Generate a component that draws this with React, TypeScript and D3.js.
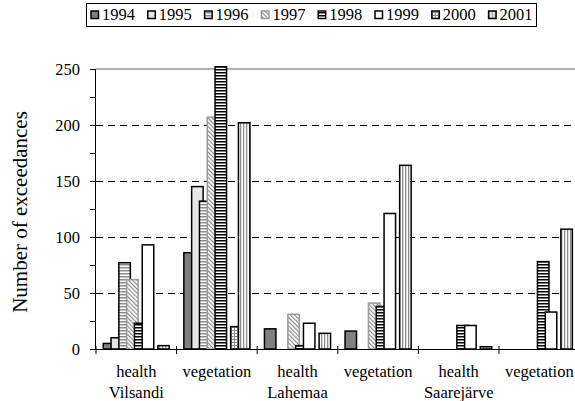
import React from "react";
import * as d3 from "d3";

const categories = ["health", "vegetation", "health", "vegetation", "health", "vegetation"];
const groups = ["Vilsandi", "", "Lahemaa", "", "Saarejärve", ""];
const years = ["1994", "1995", "1996", "1997", "1998", "1999", "2000", "2001"];
const v1994 = [5, 86, 18, 16, 0, 0];
const v1995 = [10, 145, 0, 0, 0, 0];
const v1996 = [77, 132, 0, 0, 0, 0];
const v1997 = [62, 207, 31, 41, 0, 0];
const v1998 = [23, 252, 3, 38, 21, 78];
const v1999 = [93, 0, 23, 121, 21, 33];
const v2000 = [0, 20, 0, 0, 0, 0];
const v2001 = [3, 202, 14, 164, 2, 107];
const series = [v1994, v1995, v1996, v1997, v1998, v1999, v2000, v2001];
const yTicks = [0, 50, 100, 150, 200, 250];
const yMinor = [0, 25, 50, 75, 100, 125, 150, 175, 200, 225, 250];

const fills = ["#808080", "#e6e6e6", "url(#p1996)", "url(#p1997)", "url(#p1998)", "#ffffff", "url(#p2000)", "url(#p2001)"];
const strokes = ["#000", "#000", "#000", "#9a9a9a", "#000", "#000", "#000", "#000"];

const W = 575, H = 401;
const FONT = "'Liberation Serif', 'Times New Roman', serif";

export default function App() {
  const x = d3.scaleBand<number>().domain(d3.range(categories.length)).range([96, 96 + 6 * 80.6]).padding(0);
  const y = d3.scaleLinear().domain([0, 250]).range([349, 69]);
  const bw = x.bandwidth();
  const step = bw * 0.0968;
  const barW = bw * 0.1427;
  const span = step * 7 + barW;
  const off = (bw - span) / 2;
  const x1 = d3.scalePoint<string>().domain(years).range([off, off + step * 7]);
  const txt = { fontFamily: FONT, fontSize: 16.5 } as React.CSSProperties;

  return (
    <svg width={W} height={H} style={{ position: "absolute", left: 0, top: 0, background: "#fff" }}>
      <defs>
        <pattern id="p1996" width="3" height="3" patternUnits="userSpaceOnUse">
          <rect width="3" height="3" fill="#fff" />
          <rect y="0" width="3" height="1.5" fill="#8c8c8c" />
        </pattern>
        <pattern id="p1998" width="3" height="3" patternUnits="userSpaceOnUse">
          <rect width="3" height="3" fill="#fff" />
          <rect y="0" width="3" height="1.5" fill="#000" />
        </pattern>
        <pattern id="p1997" width="3" height="3" patternUnits="userSpaceOnUse" patternTransform="rotate(-45)">
          <rect width="3" height="3" fill="#fff" />
          <rect x="0" width="1.2" height="3" fill="#8c8c8c" />
        </pattern>
        <pattern id="p2000" width="3" height="3" patternUnits="userSpaceOnUse">
          <rect width="3" height="3" fill="#fff" />
          <rect x="0" width="1" height="3" fill="#8c8c8c" />
          <rect y="0" width="3" height="1" fill="#8c8c8c" />
        </pattern>
        <pattern id="p2001" width="3" height="3" patternUnits="userSpaceOnUse">
          <rect width="3" height="3" fill="#fff" />
          <rect x="0" width="1.3" height="3" fill="#8c8c8c" />
        </pattern>
      </defs>

      {yTicks.filter(t => t > 0 && t < 250).map(t => (
        <line key={t} x1={96} x2={W} y1={y(t) + 0.5} y2={y(t) + 0.5} stroke="#000" strokeWidth={1} strokeDasharray="7,5" />
      ))}
      <line x1={96} x2={W} y1={y(250)} y2={y(250)} stroke="#999" strokeWidth={1.5} />

      {series.map((vals, si) => (
        <g key={si}>
          {vals.map((v, ci) => v > 0 ? (
            <rect key={ci}
              x={(x(ci) as number) + (x1(years[si]) as number)}
              y={y(v)}
              width={barW}
              height={y(0) - y(v)}
              fill={fills[si]}
              stroke={strokes[si]}
              strokeWidth={1.5} />
          ) : null)}
        </g>
      ))}

      <line x1={95.5} x2={95.5} y1={y(250)} y2={y(0)} stroke="#000" strokeWidth={1} />
      <line x1={96} x2={W} y1={y(0) + 0.5} y2={y(0) + 0.5} stroke="#000" strokeWidth={1} />
      {yMinor.map(t => (
        <line key={t} x1={90} x2={96} y1={y(t) + 0.5} y2={y(t) + 0.5} stroke="#000" strokeWidth={1} />
      ))}
      {yTicks.map(t => (
        <text key={t} x={80} y={y(t)} dy="0.35em" textAnchor="end" style={txt}>{t}</text>
      ))}
      {d3.range(categories.length + 1).map(i => (
        <line key={i} x1={96 + i * bw} x2={96 + i * bw} y1={y(0) - 3} y2={y(0) + 5} stroke="#000" strokeWidth={1} />
      ))}
      {categories.map((c, i) => (
        <text key={i} x={(x(i) as number) + bw / 2} y={377} textAnchor="middle" style={txt}>{c}</text>
      ))}
      {groups.map((g, i) => g ? (
        <text key={i} x={(x(i) as number) + bw / 2} y={398} textAnchor="middle" style={txt}>{g}</text>
      ) : null)}
      <text transform={`translate(27,212) rotate(-90)`} textAnchor="middle" style={{ fontFamily: FONT, fontSize: 21 }}>Number of exceedances</text>

      <rect x={86.5} y={3.5} width={450} height={23} fill="#fff" stroke="#000" strokeWidth={1} />
      {years.map((yr, i) => (
        <g key={yr} transform={`translate(${91 + i * 56.8},0)`}>
          <rect x={0} y={11} width={7.5} height={7.5} fill={fills[i]} stroke={strokes[i]} strokeWidth={1.5} />
          <text x={11} y={20} style={txt}>{yr}</text>
        </g>
      ))}
    </svg>
  );
}
